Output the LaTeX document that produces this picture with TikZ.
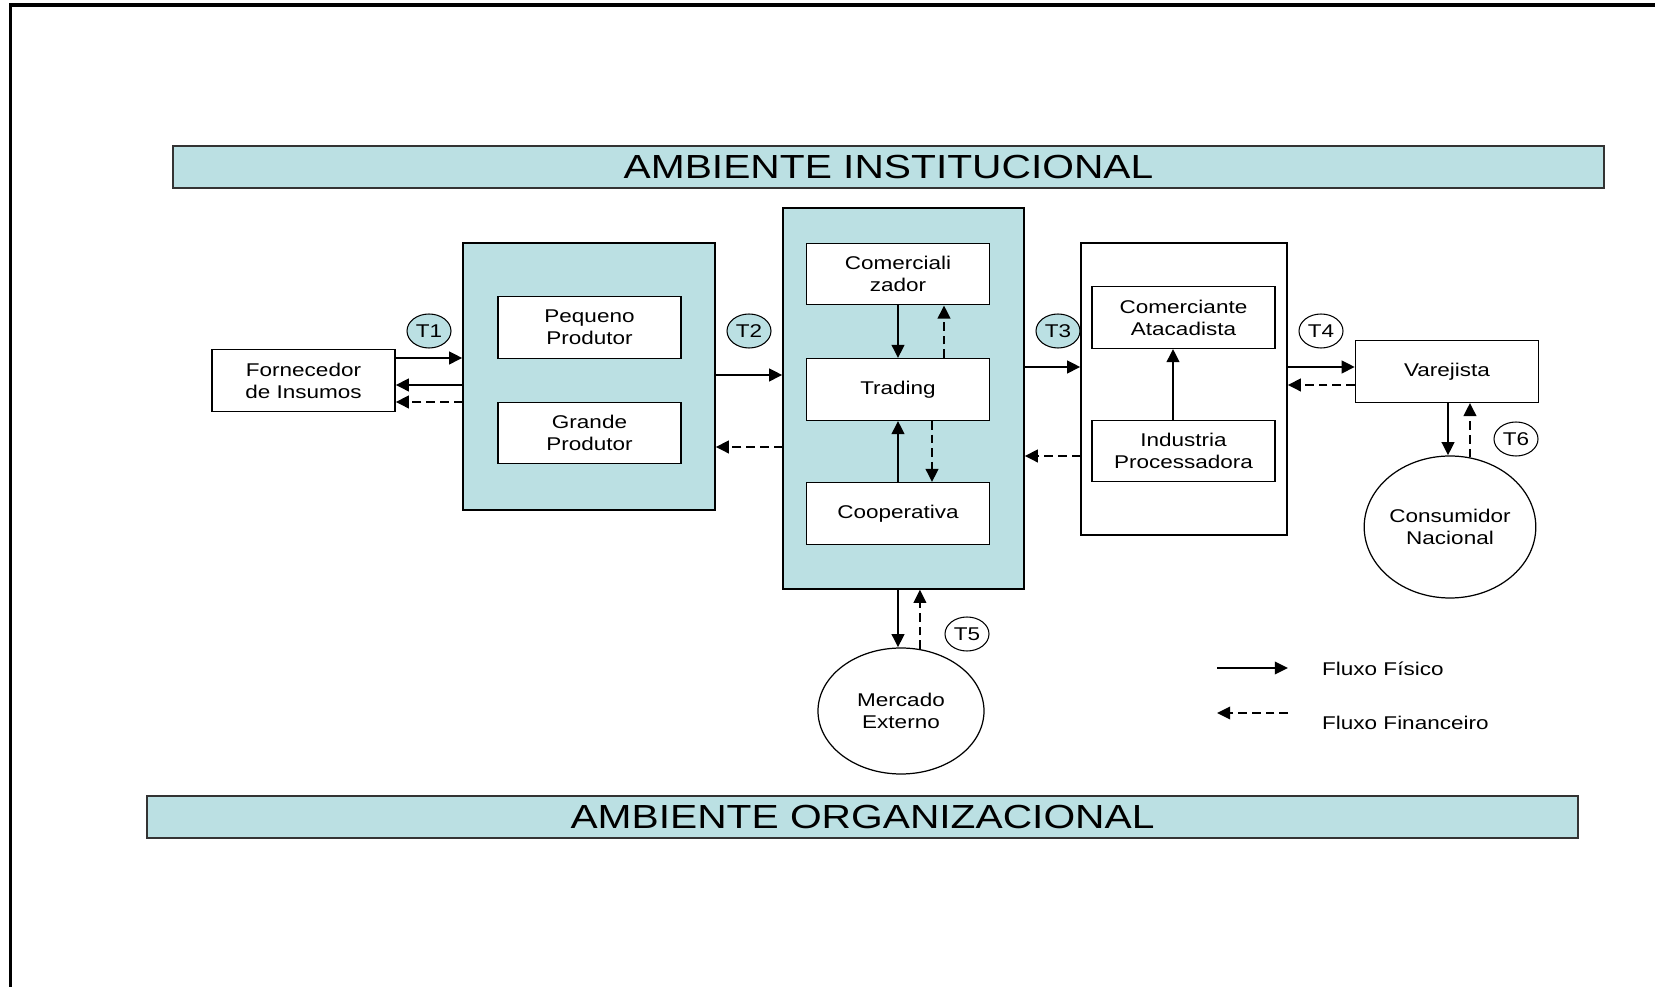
\documentclass[tikz,border=0pt]{standalone}
\usepackage{fontspec}
\setmainfont{Liberation Sans}[FakeStretch=1.22]
\usepackage{xcolor}
\usetikzlibrary{shapes,arrows.meta,positioning,calc}

\definecolor{tealbox}{RGB}{187,224,227}

\tikzset{
    txt/.style={font=\fontsize{10.5}{12.5}\selectfont},
    box/.style={txt, draw, fill=white, line width=0.7pt, align=center, inner sep=0pt,
        minimum width=3.66cm, minimum height=1.23cm},
    group/.style={draw, fill=tealbox, line width=0.7pt, inner sep=0pt},
    bar/.style={draw=black!80, fill=tealbox, line width=1.2pt, inner sep=0pt,
        minimum width=28.62cm, minimum height=0.84cm, font=\fontsize{19}{22}\selectfont},
    tlabel/.style={txt, draw, ellipse, line width=0.6pt, inner sep=0pt,
        minimum width=0.88cm, minimum height=0.68cm},
    market/.style={txt, draw, ellipse, line width=0.7pt, align=center, inner sep=0pt,
        minimum width=3.32cm},
    fis/.style={line width=1.5pt, -{Triangle[length=7.5pt,width=7pt]}},
    fin/.style={fis, dash pattern=on 5pt off 2.8pt},
}

\begin{document}
\begin{tikzpicture}
    \useasboundingbox (0,0) rectangle (33.1,19.74);
    % Page frame
    \draw[line width=2pt] (0.21,0) -- (0.21,19.64) -- (33.1,19.64);

    % Environment bars
    \node[bar] (inst) at (17.77,16.40) {AMBIENTE INSTITUCIONAL};
    \node[bar] (org) at (17.25,3.40) {AMBIENTE ORGANIZACIONAL};

    % Supplier and producers
    \node[box] (forn) at (6.07,12.13) {Fornecedor\\de Insumos};
    \node[group, minimum width=5.04cm, minimum height=5.34cm] (prod) at (11.78,12.21) {};
    \node[box] (peq) at (11.79,13.19) {Pequeno\\Produtor};
    \node[box] (gra) at (11.79,11.08) {Grande\\Produtor};

    % Commercial agents
    \node[group, minimum width=4.82cm, minimum height=7.62cm] (agent) at (18.07,11.77) {};
    \node[box] (comz) at (17.96,14.26) {Comerciali\\zador};
    \node[box] (trad) at (17.96,11.95) {Trading};
    \node[box] (coop) at (17.96,9.47) {Cooperativa};

    % Wholesale and industry
    \node[group, fill=white, minimum width=4.12cm, minimum height=5.84cm] (atac) at (23.68,11.96) {};
    \node[box] (comc) at (23.67,13.39) {Comerciante\\Atacadista};
    \node[box] (ind) at (23.67,10.72) {Industria\\Processadora};

    % Retail and markets
    \node[box] (var) at (28.94,12.31) {Varejista};
    \node[market, minimum height=2.84cm] (cons) at (29.0,9.2) {Consumidor\\Nacional};
    \node[market, minimum height=2.52cm] (merc) at (18.02,5.52) {Mercado\\Externo};

    % Transactions
    \node[tlabel, fill=tealbox] (t1) at (8.58,13.12) {T1};
    \node[tlabel, fill=tealbox] (t2) at (14.98,13.12) {T2};
    \node[tlabel, fill=tealbox] (t3) at (21.16,13.12) {T3};
    \node[tlabel] (t4) at (26.42,13.12) {T4};
    \node[tlabel] (t5) at (19.34,7.06) {T5};
    \node[tlabel] (t6) at (30.32,10.96) {T6};

    % Flows
    \draw[fis] (forn.east |- 0,12.58) -- (prod.west |- 0,12.58);
    \draw[fis] (prod.west |- 0,12.04) -- (forn.east |- 0,12.04);
    \draw[fin] (prod.west |- 0,11.70) -- (forn.east |- 0,11.70);
    \draw[fis] (prod.east |- 0,12.24) -- (agent.west |- 0,12.24);
    \draw[fin] (agent.west |- 0,10.80) -- (prod.east |- 0,10.80);
    \draw[fis] (agent.east |- 0,12.40) -- (atac.west |- 0,12.40);
    \draw[fin] (atac.west |- 0,10.62) -- (agent.east |- 0,10.62);
    \draw[fis] (atac.east |- 0,12.40) -- (var.west |- 0,12.40);
    \draw[fin] (var.west |- 0,12.04) -- (atac.east |- 0,12.04);
    \draw[fis] (comz.south) -- (trad.north);
    \draw[fin] (trad.north -| 18.88,0) -- (comz.south -| 18.88,0);
    \draw[fis] (coop.north) -- (trad.south);
    \draw[fin] (trad.south -| 18.64,0) -- (coop.north -| 18.64,0);
    \draw[fis] (ind.north -| 23.46,0) -- (comc.south -| 23.46,0);
    \draw[fis] (agent.south -| 17.96,0) -- (merc.north -| 17.96,0);
    \draw[fin] (merc.73) -- (merc.73 |- agent.south);
    \draw[fis] (var.south -| 28.96,0) -- (cons.north -| 28.96,0);
    \draw[fin] (cons.74) -- (cons.74 |- var.south);

    % Legend
    \coordinate (lfa) at (24.34,6.38);
    \coordinate (lfb) at (25.76,6.38);
    \coordinate (lga) at (25.76,5.48);
    \coordinate (lgb) at (24.34,5.48);
    \draw[fis] (lfa) -- (lfb);
    \draw[fin] (lga) -- (lgb);
    \node[txt, anchor=west] (lfis) at (26.32,6.36) {Fluxo Físico};
    \node[txt, anchor=west] (lfin) at (26.32,5.28) {Fluxo Financeiro};
\end{tikzpicture}
\end{document}
